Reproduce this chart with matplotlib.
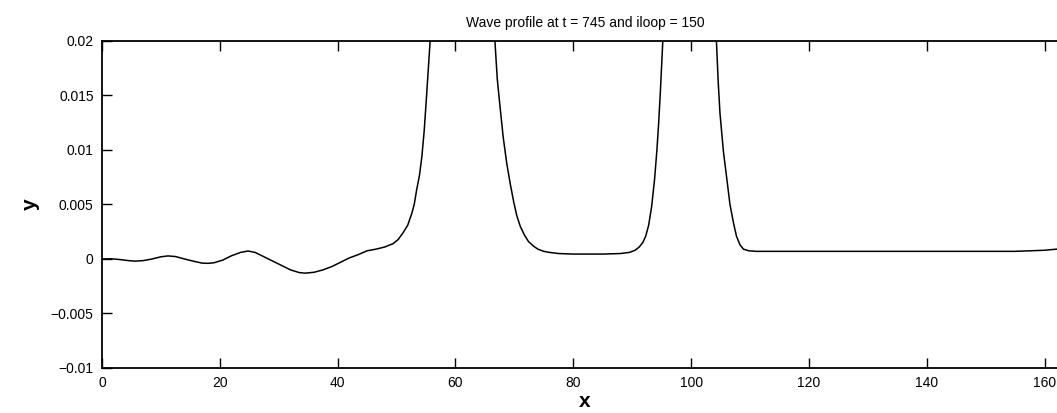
import numpy as np
import matplotlib
matplotlib.use("Agg")
import matplotlib.pyplot as plt

# wave profile (x, y); values above 0.02 are clipped by the axes
x_pts = [0, 1.5, 3, 4.5, 5.6, 7, 8.5, 10, 11.2, 12.5, 14, 15.5, 17, 18, 19,
         20.5, 22, 23.5, 24.8, 26, 27.5, 29, 30.5, 32, 33.5, 34.5, 36, 37.5,
         39, 40.5, 42, 43.5, 45, 46.5, 48, 49.4, 50.3, 51.1, 51.9, 52.6, 53.0,
         53.4, 53.9, 54.3, 54.7, 55.1, 55.4, 55.7, 56.0, 61,
         66.4, 66.7, 67.1, 67.6, 68.1, 68.7, 69.3, 69.9, 70.4, 71, 71.7, 72.4,
         73.2, 74, 75, 76, 77.5, 80, 85, 88, 89.5, 90.5, 91.2, 91.8, 92.3,
         92.8, 93.3, 93.8, 94.2, 94.5, 94.8, 95.2, 95.5, 100,
         104.0, 104.3, 104.6, 104.9, 105.5, 106.1, 106.6, 107.2, 107.7, 108.3,
         108.9, 109.8, 111.1, 115, 125, 135, 145, 155, 160, 164]
y_pts = [0.0, 0.00002, -0.00005, -0.00015, -0.0002, -0.00015, 0.0, 0.0002,
         0.00028, 0.00022, 0.0, -0.0002, -0.00038, -0.0004, -0.00035, -0.0001,
         0.0003, 0.0006, 0.00073, 0.0006, 0.0002, -0.0002, -0.0006, -0.001,
         -0.00125, -0.0013, -0.00122, -0.001, -0.0007, -0.0003, 0.0001, 0.0004,
         0.00075, 0.0009, 0.0011, 0.0014, 0.0018, 0.0024, 0.0031, 0.0042, 0.005,
         0.0063, 0.0077, 0.0094, 0.0118, 0.015, 0.0175, 0.02, 0.0235, 0.04,
         0.022, 0.02, 0.0165, 0.0138, 0.0112, 0.0088, 0.0069, 0.0052, 0.004,
         0.003, 0.0022, 0.0016, 0.0012, 0.0009, 0.0007, 0.0006, 0.0005, 0.00045,
         0.00045, 0.0005, 0.0006, 0.0008, 0.0011, 0.0015, 0.0021, 0.0031,
         0.0048, 0.0073, 0.01, 0.0125, 0.0155, 0.02, 0.0235, 0.035,
         0.0235, 0.02, 0.0163, 0.0134, 0.0098, 0.0072, 0.005, 0.0033, 0.0021,
         0.0013, 0.0009, 0.00075, 0.0007, 0.0007, 0.0007, 0.0007, 0.0007,
         0.0007, 0.0008, 0.001]

x_ticks = [0, 20, 40, 60, 80, 100, 120, 140, 160]
y_ticks = [-0.01, -0.005, 0, 0.005, 0.01, 0.015, 0.02]
y_ticklabels = ['\u22120.01', '\u22120.005', '0', '0.005', '0.01', '0.015', '0.02']

plt.rcParams['font.family'] = ['Liberation Sans', 'DejaVu Sans']

fig = plt.figure(figsize=(10.57, 4.13), dpi=100)
ax = fig.add_axes([0.0965, 0.109, 0.914, 0.7918])

ax.plot(x_pts, y_pts, color='black', linewidth=1.1)

ax.set_xlim(0, 164)
ax.set_ylim(-0.01, 0.02)
ax.set_xticks(x_ticks)
ax.set_xticklabels([str(t) for t in x_ticks])
ax.set_yticks(y_ticks)
ax.set_yticklabels(y_ticklabels)

ax.tick_params(direction='in', length=7, width=1.0, top=True, right=True,
               labelsize=10, pad=6)
for s in ax.spines.values():
    s.set_linewidth(1.3)

ax.set_title('Wave profile at t = 745 and iloop = 150', fontsize=10, pad=10)
ax.set_xlabel('x', fontsize=15, fontweight='bold', labelpad=1)
ax.set_ylabel('y', fontsize=15, fontweight='bold', labelpad=8)

fig.savefig('out.png', dpi=100)
